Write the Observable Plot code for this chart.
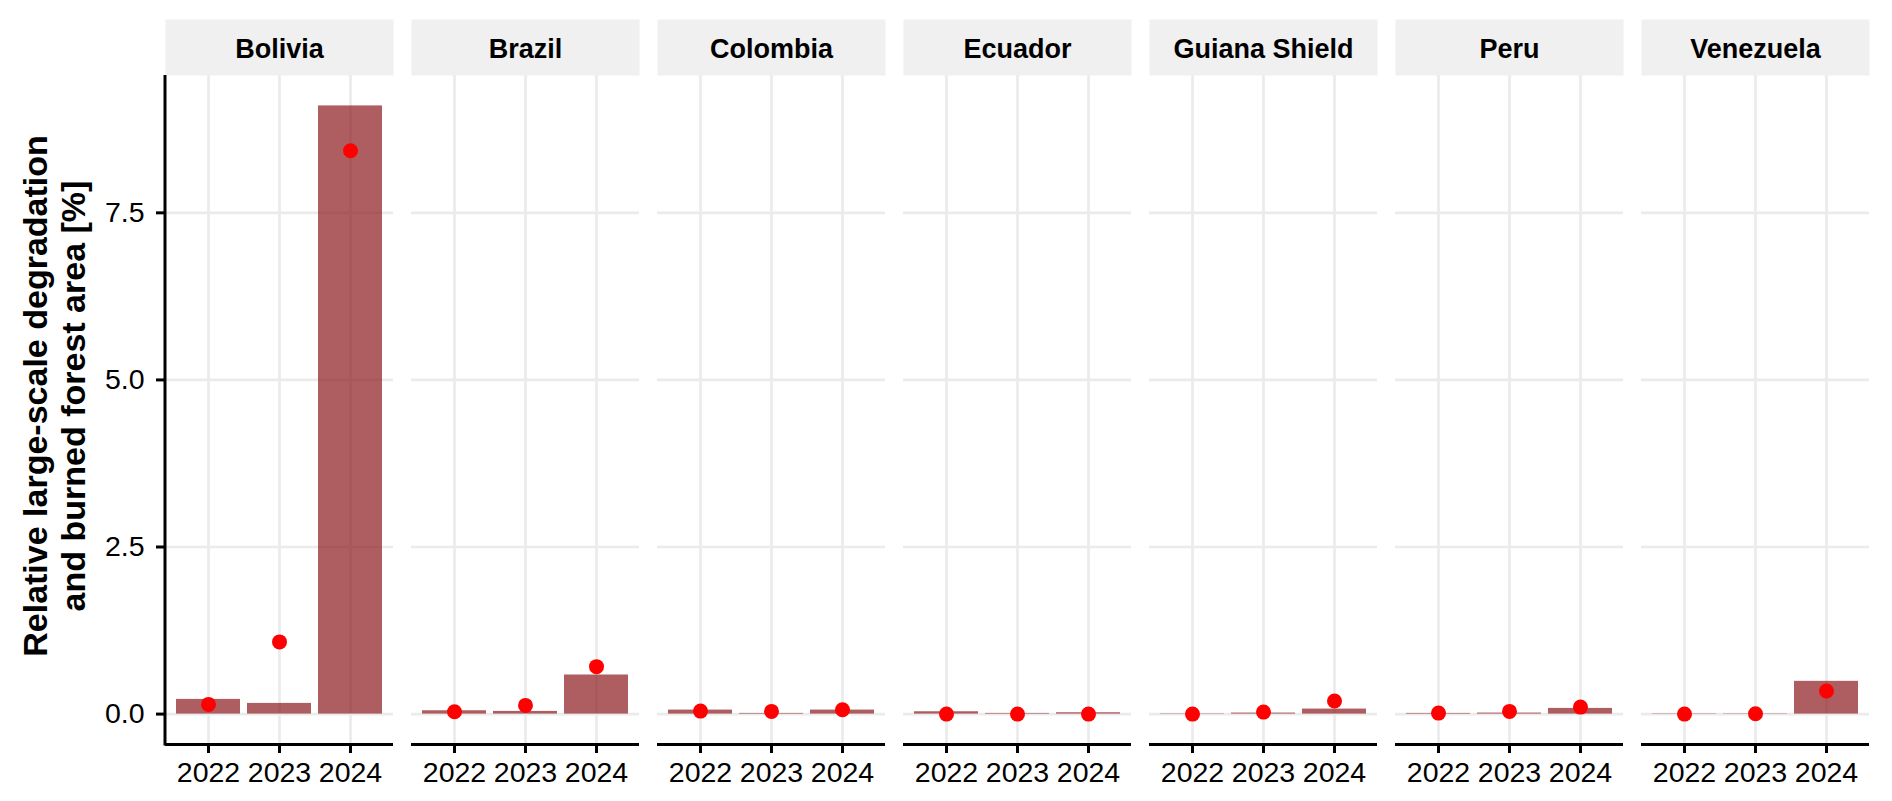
<!DOCTYPE html>
<html>
<head>
<meta charset="utf-8">
<script src="https://cdn.jsdelivr.net/npm/d3@7"></script>
<script src="https://cdn.jsdelivr.net/npm/@observablehq/plot@0.6"></script>
<style>
  body { margin: 0; background: #fff; }
  #chart svg { display: block; }
</style>
</head>
<body>
<div id="chart"></div>
<script>
// ---- data ----
const regions = ["Bolivia", "Brazil", "Colombia", "Ecuador", "Guiana Shield", "Peru", "Venezuela"];
const years = ["2022", "2023", "2024"];
// bar heights per region, ordered by years
const barValues = [
  [0.22, 0.16, 9.10],   // Bolivia
  [0.05, 0.04, 0.585],  // Brazil
  [0.06, 0.01, 0.06],   // Colombia
  [0.035, 0.01, 0.02],  // Ecuador
  [0.005, 0.015, 0.075],// Guiana Shield
  [0.01, 0.015, 0.085], // Peru
  [0.005, 0.005, 0.49]  // Venezuela
];
// red point values per region, ordered by years
const pointValues = [
  [0.145, 1.08, 8.43],
  [0.035, 0.13, 0.71],
  [0.045, 0.04, 0.065],
  [0.0, 0.0, 0.0],
  [0.0, 0.03, 0.195],
  [0.015, 0.04, 0.105],
  [0.0, 0.005, 0.345]
];
const yTicks = [0, 2.5, 5, 7.5];
const yTitle = "Relative large-scale degradation\nand burned forest area [%]";

// ---- table built from the arrays ----
const data = [];
regions.forEach((r, i) => years.forEach((y, j) => {
  data.push({region: r, year: y, bar: barValues[i][j], point: pointValues[i][j]});
}));

// ggplot-like 5% expansion of the continuous axis
const yMax = d3.max(data, d => Math.max(d.bar, d.point));
const yMin = 0;
const span = yMax - yMin;
const yDomain = [yMin - 0.05 * span, yMax + 0.05 * span];

const W = 1892, H = 801;
const mTop = 75, mBottom = 57, mLeft = 162, mRight = 20;
const panelH = H - mTop - mBottom;
const gridColor = "#ebebeb";
const font = "'Liberation Sans', Arial, Helvetica, sans-serif";

const plot = Plot.plot({
  width: W,
  height: H,
  marginTop: mTop,
  marginBottom: mBottom,
  marginLeft: mLeft,
  marginRight: mRight,
  style: { fontFamily: font, background: "white", color: "black" },
  fx: { domain: regions, paddingInner: 0.072, paddingOuter: 0, label: null, axis: null },
  x: { domain: years, paddingInner: 0.1, paddingOuter: 0.15, label: null },
  y: { domain: yDomain, label: null },
  marks: [
    // facet strips
    Plot.frame({ fill: "#f0f0f0", stroke: null, insetTop: -56, insetBottom: panelH }),
    Plot.text(regions, {
      fx: d => d, text: d => d, frameAnchor: "top", dy: -26,
      lineAnchor: "middle", fontSize: 27, fontWeight: "bold", fill: "black"
    }),
    // grid
    Plot.gridY(yTicks, { stroke: gridColor, strokeOpacity: 1, strokeWidth: 2.7 }),
    Plot.gridX(years, { stroke: gridColor, strokeOpacity: 1, strokeWidth: 2.7 }),
    // data
    Plot.barY(data, { fx: "region", x: "year", y1: 0, y2: "bar", fill: "#8b1a1c", fillOpacity: 0.7 }),
    Plot.dot(data, { fx: "region", x: "year", y: "point", r: 7.5, fill: "red", stroke: null }),
    // axes
    Plot.ruleY([yDomain[0]], { stroke: "black", strokeWidth: 3 }),
    Plot.axisX({ tickSize: 9, tickPadding: 8, fontSize: 28.5, strokeWidth: 3, fill: "black", label: null }),
    Plot.axisY(yTicks, { tickFormat: d3.format(".1f"), tickSize: 9, tickPadding: 12, fontSize: 28.5, strokeWidth: 3, fill: "black", label: null }),
    // y title in left-most facet
    Plot.text([regions[0]], {
      fx: d => d, text: () => yTitle, frameAnchor: "left", rotate: -90, dx: -112, dy: -14,
      lineAnchor: "middle", textAnchor: "middle", fontSize: 34, fontWeight: "bold",
      lineHeight: 1.14, fill: "black"
    })
  ]
});

// y axis line on the left-most panel, positioned from the library's scales
const ys = plot.scale("y");
const fxs = plot.scale("fx");
const xLeft = fxs.apply(regions[0]);
d3.select(plot).append("line")
  .attr("x1", xLeft).attr("x2", xLeft)
  .attr("y1", ys.range[0] + 1.5).attr("y2", ys.range[1])
  .attr("stroke", "black").attr("stroke-width", 3);

document.getElementById("chart").appendChild(plot);
</script>
</body>
</html>
